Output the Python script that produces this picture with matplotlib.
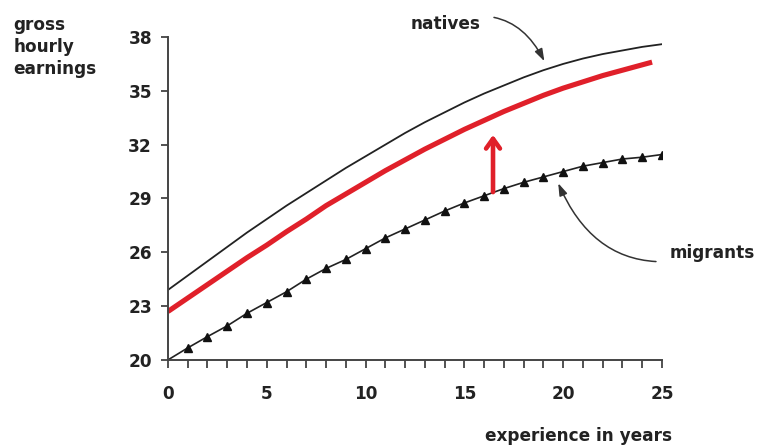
import numpy as np
import matplotlib.pyplot as plt

# values
years = np.arange(0, 26)
natives = [23.9, 24.7, 25.5, 26.3, 27.1, 27.85, 28.6, 29.3, 30.0, 30.7, 31.35,
           32.0, 32.65, 33.25, 33.8, 34.35, 34.85, 35.3, 35.75, 36.15, 36.5,
           36.8, 37.05, 37.25, 37.45, 37.6]
migrants = [20.0, 20.67, 21.3, 21.9, 22.6, 23.2, 23.8, 24.5, 25.1, 25.6, 26.2,
            26.8, 27.3, 27.8, 28.3, 28.75, 29.15, 29.55, 29.9, 30.2, 30.5,
            30.8, 31.0, 31.2, 31.3, 31.45]
red_x = [0, 1, 2, 3, 4, 5, 6, 7, 8, 9, 10, 11, 12, 13, 14, 15, 16, 17, 18,
         19, 20, 21, 22, 23, 24, 24.5]
red_y = [22.7, 23.45, 24.2, 24.95, 25.7, 26.4, 27.15, 27.85, 28.6, 29.25, 29.9,
         30.55, 31.15, 31.75, 32.3, 32.85, 33.35, 33.85, 34.3, 34.75, 35.15,
         35.5, 35.85, 36.15, 36.45, 36.6]
arrow_x = 16.45
arrow_from, arrow_to = 29.2, 32.7

plt.rcParams['font.family'] = ['DejaVu Sans']
plt.rcParams['font.weight'] = 'bold'
fs = 12.2

fig = plt.figure(figsize=(7.6, 4.46), dpi=100)
ax = fig.add_axes([0.221, 0.193, 0.650, 0.724])

ax.plot(years, natives, color='#222222', lw=1.3)
ax.plot(red_x, red_y, color='#e0202a', lw=3.7, solid_capstyle='butt')
ax.plot(years, migrants, color='#222222', lw=1.2)
ax.plot(years[1:], migrants[1:], ls='none', marker='^', ms=5.5, color='#111111')

ax.annotate('', xy=(arrow_x, arrow_to), xytext=(arrow_x, arrow_from),
            arrowprops=dict(arrowstyle='->,head_length=0.7,head_width=0.5',
                            color='#e0202a', lw=3.3))

ax.set_xlim(0, 25)
ax.set_ylim(20, 38)
ax.set_xticks([0, 5, 10, 15, 20, 25])
ax.set_xticks(years, minor=True)
ax.set_yticks([20, 23, 26, 29, 32, 35, 38])
for s in ['top', 'right']:
    ax.spines[s].set_visible(False)
for s in ['left', 'bottom']:
    ax.spines[s].set_color('#444444')
    ax.spines[s].set_linewidth(1.4)
ax.tick_params(which='both', direction='out', color='#444444', width=1.3,
               labelsize=fs, labelcolor='#222222')
ax.tick_params(axis='x', which='major', length=6, pad=12)
ax.tick_params(axis='x', which='minor', length=6)
ax.tick_params(axis='y', length=5, pad=6.5)

fig.text(0.018, 0.965, 'gross\nhourly\nearnings', ha='left', va='top',
         fontsize=fs, color='#222222', linespacing=1.3)
fig.text(0.884, 0.022, 'experience in years', ha='right', va='center',
         fontsize=fs, color='#222222')

ax.annotate('natives', xy=(19.05, 36.65), xytext=(15.8, 38.75),
            fontsize=fs, color='#222222', ha='right', va='center',
            annotation_clip=False,
            arrowprops=dict(arrowstyle='-|>,head_length=0.6,head_width=0.2',
                            color='#333333', lw=1.1,
                            connectionstyle='arc3,rad=-0.45',
                            shrinkA=8, shrinkB=0))
ax.annotate('migrants', xy=(19.75, 29.85), xytext=(25.4, 25.95),
            fontsize=fs, color='#222222', ha='left', va='center',
            annotation_clip=False,
            arrowprops=dict(arrowstyle='-|>,head_length=0.6,head_width=0.2',
                            color='#333333', lw=1.1,
                            connectionstyle='arc3,rad=-0.45',
                            shrinkA=8, shrinkB=0))

fig.savefig('out.png', dpi=100)
